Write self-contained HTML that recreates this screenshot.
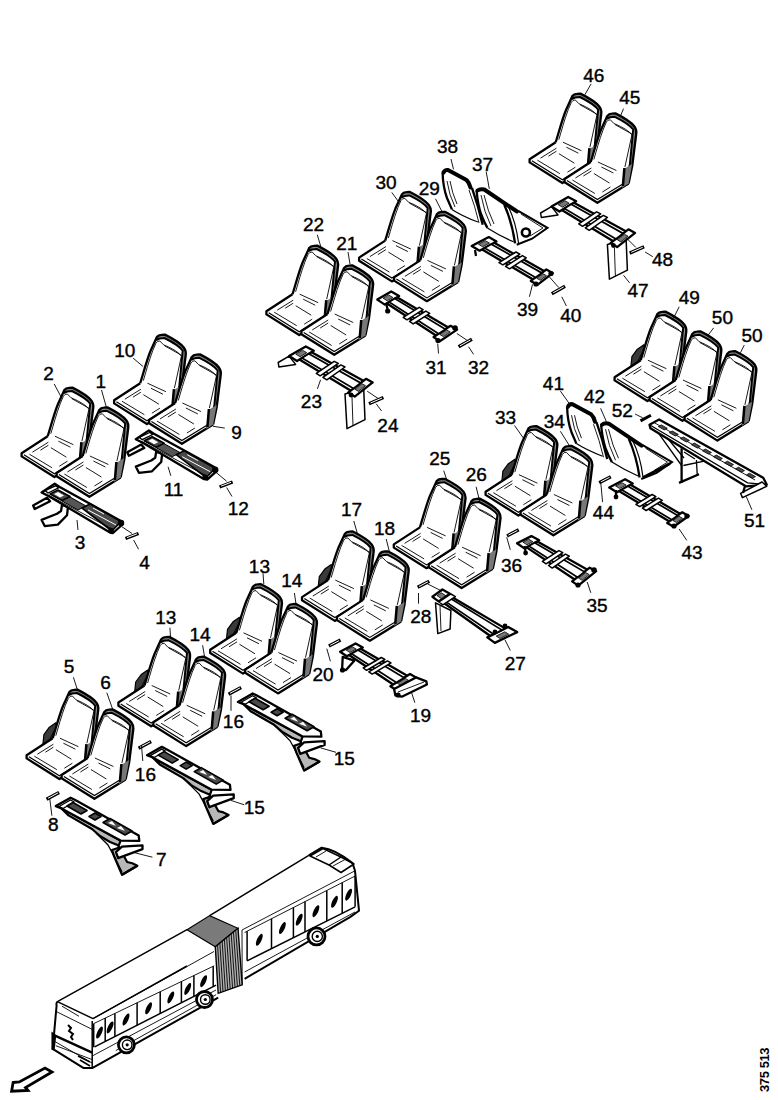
<!DOCTYPE html>
<html><head><meta charset="utf-8"><style>
html,body{margin:0;padding:0;background:#fff;width:778px;height:1100px;overflow:hidden}
svg{display:block}
.fw{fill:#fff;stroke:none}
.o{fill:none;stroke:#000;stroke-width:2.3;stroke-linejoin:round}
.o2{fill:none;stroke:#000;stroke-width:2}
.shell{fill:#777;stroke:none}
.brk{fill:#3a3a3a;stroke:#000;stroke-width:1.2;stroke-linejoin:round}
.gb{fill:none;stroke:#888;stroke-width:2.2}
.o3{fill:none;stroke:#000;stroke-width:2.5}
.i{fill:none;stroke:#000;stroke-width:0.9}
.i2{fill:none;stroke:#000;stroke-width:1.2}
.band{fill:none;stroke:#000;stroke-width:4;stroke-linejoin:round;stroke-linecap:round}
.dk{fill:#666;stroke:#000;stroke-width:1.6}
.fr{fill:#fff;stroke:#000;stroke-width:1.5;stroke-linejoin:round}
.fr2{fill:#fff;stroke:#000;stroke-width:2.3;stroke-linejoin:round}
.dkf{fill:#4a4a4a;stroke:#000;stroke-width:1.6;stroke-linejoin:round}
.wf{fill:#fff;stroke:none}
.wl{fill:none;stroke:#fff;stroke-width:1.2}
.wl2{fill:none;stroke:#fff;stroke-width:1}
.op{fill:#fff;stroke:#000;stroke-width:1.7}
.ib2{fill:none;stroke:#000;stroke-width:1.3}
.gr2{fill:#555;stroke:#000;stroke-width:1}
.gr3{fill:#b8b8b8;stroke:#000;stroke-width:2.2;stroke-linejoin:round}
.gr{fill:#777;stroke:#000;stroke-width:0.8}
.t{fill:none;stroke:#000;stroke-width:0.9}
.ob{fill:none;stroke:#000;stroke-width:1.5;stroke-linejoin:round}
.ib{fill:none;stroke:#000;stroke-width:0.9}
.hb{fill:#7a7a7a;stroke:#000;stroke-width:1.2}
.hb2{fill:#b0b0b0;stroke:#000;stroke-width:1.4}
.ob2{fill:none;stroke:#000;stroke-width:2;stroke-linejoin:round}
.win path{fill:#fff;stroke:#000;stroke-width:1.1}
.wh{fill:#fff;stroke:#000;stroke-width:2.8}
.wh2{fill:#fff;stroke:#000;stroke-width:1.4}
.code{font-family:"Liberation Sans",sans-serif;font-size:13px;font-weight:bold;fill:#000;letter-spacing:-0.4px}
.lab text{font-family:"Liberation Sans",sans-serif;font-size:19px;text-anchor:middle;fill:#000;stroke:#000;stroke-width:0.4}
</style></head><body>
<svg width="778" height="1100" viewBox="0 0 778 1100">
<defs>
<g id="seat">
 <path class="fw" d="M -19.7,48 C -16.5,38 -13.5,26 -9.5,16 L -3,1.8 Q -1.5,-0.3 1.5,-0.4 L 5,-0.6 Q 20,7 24,12.5 Q 26.5,16 25.8,20 L 21.8,52 L 18.2,69.5 L -13,88.8 L -45.8,68.2 L -45.8,65 Z"/>
 <path class="gb" d="M -3.8,3.5 Q -1.8,1 4.7,1.3 Q 19.5,8.5 23.8,14 Q 25,17 24.2,20 L 20.6,51 L 17,70"/>
 <path class="o" d="M -19.7,48 C -16.5,38 -13.5,26 -9.5,16 L -3,1.8 Q -1.5,-0.3 1.5,-0.4 L 5,-0.6 Q 20,7 24,12.5 Q 26.5,16 25.8,20 L 21.8,52 L 18.2,69.5"/>
 <path class="o" d="M -19.7,48 L -45.8,65 L -45.8,68.2 L -13,88.8 L 18.2,69.5"/>
 <path class="o2" d="M -3.8,5 Q -1,2.8 4.5,2.8 Q 19,10 22.8,15.5 L 19.5,50 L 15.5,70"/>
 <path class="i" d="M -16.6,45.5 C -14,37 -11.5,27 -7,15 L -4,8 Q -2.5,5.5 0,5.8 L 3.5,9.5 Q 18,15.5 21.5,21 L 14.5,53"/>
 <path class="i" d="M 4.5,10.5 L 21.5,20"/>
 <path class="i" d="M -12.5,48 L 6,56.5 M -9,53 L 3,59"/>
 <path class="i2" d="M -43.5,66.5 L -13,85.5 L 16.5,67.5"/>
 <path class="i" d="M -38,66 L -15.5,79.5 M -16.5,59.5 L -1,69 M -19,57 L -27,62 M -8,78 L 0,73 M -35,64 L -19,54"/>
 <path class="shell" d="M 13.5,55 L 21.8,50 L 18.2,69.5 L 11.5,74 Z"/>
 <path class="o3" d="M 14,54 L 12.5,72"/>
</g>
<g id="brk">
 <path class="brk" d="M -16.5,32.5 L -23,37 L -28.5,44.5 L -29.5,54 L -19.7,48 L -15.5,37 Z"/>
 <path class="i" d="M -18,40 L -24,52"/>
</g><g id="frA">
 <path class="fr2" d="M 33.1,505.6 L 34.7,509 L 50.1,501.2 L 47,497.8 Z"/>
 <path class="fr2" d="M 41.6,519.9 L 44.7,526.1 L 57.8,524.6 L 67,515.3 L 68,507 L 62,505 L 61,511 L 57,513.8 Z"/>
 <path class="fr2" d="M 41.6,492.5 L 54.7,483.7 L 59.3,486.8 L 120,520.4 L 123,524 L 113,533 L 110,532.5 L 48.5,496 Z"/>
 <path class="ib2" d="M 45,490.6 L 55.5,485.8 L 58.5,487.8 L 48,493 Z"/>
 <path class="dkf" d="M 50,494 L 58,490 L 70,496.5 L 62,500.5 Z"/>
 <path class="wf" d="M 54,494 L 58,492 L 64,495.5 L 60,497.5 Z"/>
 <path class="gr2" d="M 62,501 L 70,497 L 86,506 L 78,510 Z"/>
 <path class="dkf" d="M 82,508 L 90,504 L 121,521.5 L 112,531 Z"/>
 <path class="wl2" d="M 88,510 L 116,525"/>
 <path class="wl2" d="M 93,508 L 104,514"/>
 <path class="ib" d="M 48,495 L 112,529"/>
 <circle cx="121" cy="523" r="3.2" fill="#000"/>
 <circle cx="111" cy="530.5" r="2.8" fill="#000"/>
</g><g id="pinA">
 <path d="M 125.5,538.5 L 138.5,533.5" stroke="#000" stroke-width="3.4" fill="none"/>
 <path d="M 127,537.6 L 137,533.8" stroke="#fff" stroke-width="1" fill="none"/>
</g><g id="frB">
 <path class="gr3" d="M 61.5,808.4 L 120.5,840.6 L 118,848 L 112,850 L 114.3,856.8 L 122,874.8 L 137.4,865.8 L 132.3,863.3 L 127.1,862 L 118.1,845.3 L 110,842 L 100,836 L 92,829 L 68.5,815.4 Z"/>
 <path class="fr2" d="M 122,846.6 L 142.5,845.3 L 142.5,849.1 L 118.1,858.1 L 116,852 Z"/>
 <path class="fr2" d="M 55.8,806.1 L 70.6,797.7 L 75.7,800.3 L 138.7,835.6 L 139.3,840.8 L 120.5,840.6 L 61.5,808.4 Z"/>
 <path class="ib2" d="M 59,806.5 L 70.5,800 L 74,802 L 63,808.5 Z"/>
 <path class="dkf" d="M 67,806 L 73,802.5 L 87,810.5 L 81,814 Z"/>
 <path class="dkf" d="M 89,816.5 L 95,813 L 101,816.5 L 95,820 Z"/>
 <path class="dkf" d="M 103,822.5 L 110,818.5 L 132,831 L 125,835 Z"/>
 <path class="wf" d="M 108,823 L 112,821 L 116,826 Z"/>
 <path class="wf" d="M 117,828 L 121,826 L 125,831 Z"/>
 <path class="o" d="M 122,874.8 L 137.4,865.8"/>
 <path class="ib2" d="M 96,833 L 108,845 L 116,860 L 122,872"/>
</g><g id="pinB">
 <path d="M 46.6,799.3 L 59.1,792.5" stroke="#000" stroke-width="3.4" fill="none"/>
 <path d="M 48,798.3 L 58,792.9" stroke="#fff" stroke-width="1" fill="none"/>
</g><g id="pinC">
 <path d="M 458.6,346.8 L 471.9,339.3" stroke="#000" stroke-width="3.4" fill="none"/>
 <path d="M 460,345.8 L 470.5,339.9" stroke="#fff" stroke-width="1" fill="none"/>
</g><g id="pinD">
 <path d="M 369,403.8 L 383.4,397.5" stroke="#000" stroke-width="3.4" fill="none"/>
 <path d="M 370.5,403 L 382,398" stroke="#fff" stroke-width="1" fill="none"/>
</g><g id="pinE">
 <path d="M 417.7,587.3 L 429.3,581.2" stroke="#000" stroke-width="3.4" fill="none"/>
 <path d="M 419,586.5 L 428,581.8" stroke="#fff" stroke-width="1" fill="none"/>
</g><g id="pinF">
 <path d="M 640.5,420.9 L 650.9,415.2" stroke="#000" stroke-width="3" fill="none"/>
</g><g id="fold">
 <path class="fw" d="M 442.6,173 Q 444,168 448,168.5 L 467.3,178.5 Q 471,182 472,188 L 476.6,191 Q 479,187 484.3,187.8 L 518.2,210.9 L 547.5,227.9 L 532.1,238.7 L 516.7,244.8 L 513.6,241.8 Q 500,236 487.4,227.9 L 482.7,224.8 Q 470,220 451.9,209.4 Q 445,195 442.6,173 Z"/>
 <path class="o" d="M 442.6,173 Q 443,187 447,198 L 451.9,209.4"/>
 <path class="i" d="M 447,181 Q 449,195 455,207 M 450,181 Q 452,193 457,204"/>
 <path class="i2" d="M 451.9,209.4 Q 462,216 478,222"/>
 <path class="o" d="M 472,188 Q 478,205 482.7,224.8"/>
 <path class="i" d="M 469,190 Q 475,206 479,223"/>
 <path class="band" d="M 443.5,172.5 Q 445,169.5 448,170 L 466.5,180 Q 469.5,183 470.5,187.5"/>
 <path class="o" d="M 476.6,191 Q 478,205 481,214 Q 484,222 487.4,227.9"/>
 <path class="i" d="M 481,195 Q 484,212 491,226 M 484,195 Q 488,212 494,224"/>
 <path class="i2" d="M 487.4,227.9 Q 500,236 513.6,241.8"/>
 <path class="band" d="M 477.5,190.5 Q 480,188.5 484.3,189.5 L 511,207.5 L 517,211.5"/>
 <path class="o" d="M 504.3,204.7 Q 512,222 515.1,243.3"/>
 <path class="i2" d="M 508,206 Q 516,222 518.5,243"/>
 <path class="o2" d="M 518.2,210.9 L 547.5,227.9 L 532.1,238.7 L 516.7,244.8"/>
 <path class="i" d="M 521,214 L 543,228 L 530,236"/>
</g></defs>
<rect width="778" height="1100" fill="#fff"/>
<use href="#frA" x="0.0" y="0.0"/><use href="#pinA" x="0.0" y="0.0"/><use href="#frA" x="94.2" y="-53.3"/><use href="#pinA" x="94.1" y="-51.5"/><use href="#frB" x="0.0" y="0.0"/><use href="#pinB" x="0.0" y="0.0"/><use href="#frB" x="91.2" y="-50.9"/><use href="#pinB" x="92.0" y="-51.0"/><use href="#frB" x="182.1" y="-104.2"/><use href="#pinB" x="182.0" y="-105.0"/><path class="fr2" d="M 380.5,299.3 L 390.6,293.4 L 453.4,330.5 L 441.0,338.8 Z"/>
<path class="fr2" d="M 377.3,299.6 L 391.2,291.5 L 399.1,296.1 L 384.8,304.6 Z"/>
<path class="fr2" d="M 433.6,337.0 L 450.5,325.8 L 457.1,329.6 L 439.8,341.2 Z"/>
<path class="op" d="M 389.1,302.0 L 394.8,298.6 L 445.4,329.2 L 438.6,333.7 Z"/>
<path class="fr" d="M 403.2,317.3 L 419.2,307.3 L 423.1,309.6 L 407.0,319.8 Z"/>
<path class="fr" d="M 409.5,321.4 L 425.8,311.1 L 429.7,313.4 L 413.2,323.9 Z"/>
<path class="gr" d="M 383.1,298.2 L 388.7,294.9 L 392.9,297.5 L 387.2,300.8 Z"/>
<path class="gr" d="M 439.9,334.5 L 446.7,329.9 L 450.3,332.1 L 443.4,336.7 Z"/>
<path class="o" d="M 386,303 L 387.5,309"/><circle cx="387.7" cy="311" r="2.6" fill="#000"/><circle cx="438" cy="340.5" r="2.6" fill="#000"/><circle cx="455" cy="328" r="2.8" fill="#000"/>
<path class="fr2" d="M 475.4,245.6 L 487.7,239.1 L 549.3,274.0 L 538.2,282.4 Z"/>
<path class="fr2" d="M 471.7,246.1 L 488.8,237.1 L 496.5,241.4 L 479.6,250.7 Z"/>
<path class="fr2" d="M 530.8,280.9 L 546.3,269.5 L 552.7,273.1 L 537.4,284.8 Z"/>
<path class="op" d="M 484.6,247.9 L 491.4,244.2 L 541.7,272.9 L 535.5,277.5 Z"/>
<path class="fr" d="M 499.0,262.6 L 516.0,252.0 L 519.8,254.2 L 502.9,264.9 Z"/>
<path class="fr" d="M 505.5,266.4 L 522.4,255.6 L 526.2,257.8 L 509.5,268.8 Z"/>
<path class="gr" d="M 478.5,244.3 L 485.3,240.7 L 489.5,243.1 L 482.7,246.8 Z"/>
<path class="gr" d="M 536.8,278.3 L 543.0,273.7 L 546.5,275.7 L 540.4,280.3 Z"/>
<circle cx="536" cy="284" r="2.6" fill="#000"/><circle cx="551" cy="273.5" r="2.6" fill="#000"/><path class="o" d="M 475,250 L 476,256"/>
<path class="fr2" d="M 343.4,651.3 L 354.6,645.3 L 412.0,678.5 L 397.7,687.5 Z"/>
<path class="fr2" d="M 340.1,651.7 L 355.6,643.4 L 362.8,647.5 L 346.8,656.3 Z"/>
<path class="fr2" d="M 390.4,686.2 L 410.0,674.0 L 416.0,677.4 L 396.0,690.0 Z"/>
<path class="op" d="M 351.6,653.7 L 358.0,650.1 L 404.1,677.7 L 396.3,682.5 Z"/>
<path class="fr" d="M 363.2,668.0 L 381.3,657.5 L 384.9,659.5 L 366.6,670.3 Z"/>
<path class="fr" d="M 368.8,671.8 L 387.4,660.9 L 391.0,662.9 L 372.2,674.1 Z"/>
<path class="gr" d="M 346.2,650.1 L 352.4,646.8 L 356.3,649.1 L 349.9,652.5 Z"/>
<path class="gr" d="M 397.4,683.3 L 405.3,678.4 L 408.5,680.3 L 400.6,685.3 Z"/>
<path class="fr2" d="M 394.1,689 L 416,677.4 L 426.3,681.3 L 426.9,684.5 L 401.8,696.7 L 395.4,695.4 Z"/><path class="ib" d="M 398,692 L 424,682"/>
<path class="fr2" d="M 342.7,656.9 L 342.1,669.7 L 346,670 L 354.3,660.7 Z"/><circle cx="342.5" cy="670" r="2.6" fill="#000"/><circle cx="398" cy="695" r="2.6" fill="#000"/>
<path class="fr2" d="M 520.3,543.1 L 530.7,537.8 L 592.4,572.5 L 579.5,582.8 Z"/>
<path class="fr2" d="M 517.0,543.3 L 531.4,536.1 L 539.2,540.3 L 524.3,548.4 Z"/>
<path class="fr2" d="M 572.1,581.4 L 589.7,567.7 L 596.2,571.2 L 578.2,585.6 Z"/>
<path class="op" d="M 528.8,546.0 L 534.7,542.7 L 584.4,571.8 L 577.4,577.3 Z"/>
<path class="fr" d="M 542.4,561.3 L 558.9,550.6 L 562.8,552.7 L 546.1,563.8 Z"/>
<path class="fr" d="M 548.5,565.5 L 565.4,554.1 L 569.3,556.2 L 552.2,568.1 Z"/>
<path class="gr" d="M 522.9,542.1 L 528.7,539.2 L 532.8,541.6 L 526.9,544.8 Z"/>
<path class="gr" d="M 578.6,578.1 L 585.7,572.5 L 589.2,574.6 L 582.0,580.3 Z"/>
<path class="o" d="M 524.5,546 L 525.5,551"/><circle cx="525.6" cy="553" r="2.4" fill="#000"/><circle cx="578" cy="585" r="2.6" fill="#000"/><circle cx="594" cy="570" r="2.8" fill="#000"/>
<path class="fr2" d="M 612.7,487.2 L 624.1,481.1 L 685.2,516.8 L 674.4,524.5 Z"/>
<path class="fr2" d="M 609.2,487.6 L 625.1,479.2 L 632.7,483.6 L 616.9,492.3 Z"/>
<path class="fr2" d="M 667.2,522.9 L 682.2,512.3 L 688.6,516.0 L 673.6,526.8 Z"/>
<path class="op" d="M 621.7,489.7 L 628.0,486.2 L 677.7,515.5 L 671.7,519.7 Z"/>
<path class="fr" d="M 635.9,504.3 L 652.1,494.5 L 655.9,496.7 L 639.8,506.6 Z"/>
<path class="fr" d="M 642.4,508.2 L 658.4,498.1 L 662.2,500.3 L 646.2,510.5 Z"/>
<path class="gr" d="M 615.6,486.0 L 621.9,482.7 L 626.1,485.1 L 619.7,488.5 Z"/>
<path class="gr" d="M 673.0,520.5 L 679.0,516.2 L 682.5,518.3 L 676.5,522.6 Z"/>
<path class="o" d="M 616,490 L 616,495"/><circle cx="616" cy="497" r="2.4" fill="#000"/><circle cx="674" cy="526" r="2.6" fill="#000"/><circle cx="687" cy="516" r="2.6" fill="#000"/>
<path class="fr" d="M 278.2,362.5 L 278.9,367.0 L 295.6,364.4 L 289.1,356.1 Z"/><path class="fr" d="M 345.0,394.0 L 347.0,428.7 L 365.0,419.7 L 363.7,388.8 Z"/><path class="ib" d="M 352,397 L 353,426"/>
<path class="fr2" d="M 292.8,355.5 L 304.8,348.5 L 368.8,383.7 L 355.9,393.8 Z"/>
<path class="fr2" d="M 289.1,356.1 L 305.8,346.4 L 313.8,350.7 L 297.0,361.0 Z"/>
<path class="fr2" d="M 348.1,392.6 L 366.0,378.8 L 372.7,382.4 L 354.7,396.6 Z"/>
<path class="op" d="M 302.0,357.9 L 308.8,353.8 L 360.6,382.9 L 353.5,388.4 Z"/>
<path class="fr" d="M 316.3,373.3 L 334.2,361.3 L 338.3,363.4 L 320.2,375.8 Z"/>
<path class="fr" d="M 322.9,377.4 L 340.9,364.9 L 345.0,367.0 L 326.8,379.8 Z"/>
<path class="gr" d="M 295.8,354.2 L 302.5,350.2 L 306.8,352.7 L 300.0,356.7 Z"/>
<path class="gr" d="M 354.8,389.2 L 362.0,383.7 L 365.6,385.7 L 358.5,391.4 Z"/>
<circle cx="351" cy="395" r="2.4" fill="#000"/>
<path class="fr" d="M 540.6,213.0 L 541.3,217.5 L 558.0,214.9 L 551.5,206.6 Z"/><path class="fr" d="M 607.4,244.5 L 609.4,279.2 L 627.4,270.2 L 626.1,239.3 Z"/><path class="ib" d="M 614.4,247.5 L 615.4,276.5"/>
<path class="fr2" d="M 555.2,206.0 L 567.2,199.0 L 631.2,234.2 L 618.3,244.3 Z"/>
<path class="fr2" d="M 551.5,206.6 L 568.2,196.9 L 576.2,201.2 L 559.4,211.5 Z"/>
<path class="fr2" d="M 610.5,243.1 L 628.4,229.3 L 635.1,232.9 L 617.1,247.1 Z"/>
<path class="op" d="M 564.4,208.4 L 571.2,204.3 L 623.0,233.4 L 615.9,238.9 Z"/>
<path class="fr" d="M 578.7,223.8 L 596.6,211.8 L 600.7,213.9 L 582.6,226.3 Z"/>
<path class="fr" d="M 585.3,227.9 L 603.3,215.4 L 607.4,217.5 L 589.2,230.3 Z"/>
<path class="gr" d="M 558.2,204.7 L 564.9,200.7 L 569.2,203.2 L 562.4,207.2 Z"/>
<path class="gr" d="M 617.2,239.7 L 624.4,234.2 L 628.0,236.2 L 620.9,241.9 Z"/>
<circle cx="613.4" cy="245.5" r="2.4" fill="#000"/>
<path class="fr" d="M 435.5,602.8 L 437.8,633.6 L 450.1,629 L 450.9,610.5 Z"/><path class="ib" d="M 440,606 L 441,631"/>
<path class="fr2" d="M 435.1,596.7 L 442.5,591.4 L 512.6,632.8 L 496.7,640.5 Z"/>
<path class="fr2" d="M 432.4,596.8 L 442.4,589.5 L 449.9,593.8 L 438.6,601.4 Z"/>
<path class="fr2" d="M 487.3,637.4 L 508.2,627.0 L 517.2,632.1 L 494.8,642.9 Z"/>
<path class="op" d="M 442.0,599.1 L 446.5,596.1 L 502.0,630.1 L 493.6,634.3 Z"/>
<path class="fr" d="M 439.0,602.0 L 450.9,594.0 L 455.4,596.6 L 442.8,604.8 Z"/>
<path class="gr" d="M 437.1,595.7 L 441.2,592.8 L 445.8,595.6 L 441.4,598.7 Z"/>
<path class="gr" d="M 496.2,636.1 L 504.8,631.8 L 508.7,634.2 L 499.9,638.5 Z"/>
<circle cx="505" cy="626" r="2.4" fill="#000"/><circle cx="495" cy="632" r="2.4" fill="#000"/>
<path class="o" d="M 681.6,448.2 L 681.6,482.9 M 679,482.9 L 699,474.2"/><path class="ib2" d="M 696.4,460 L 697.3,475.9 M 683.4,465.5 L 707.7,460.3 M 655.6,429.1 L 681.6,465.5 M 659,428 L 684,458 M 684,452 L 695,459"/>
<path class="fr2" d="M 649.5,424.7 L 659.1,419.5 L 763.2,477.7 L 766.7,484.6 L 745.8,486.3 L 650.4,428.2 Z"/>
<path class="ib2" d="M 649.5,424.7 L 747.6,482.9 L 766.7,484.6"/>
<path class="ib" d="M 654,422.5 L 755,480"/>
<path class="dkf" d="M 661.3,424.9 L 667.3,428.3 L 664.3,429.9 L 658.3,426.6 Z" style="stroke-width:0.8"/>
<path class="dkf" d="M 672.3,431.0 L 678.3,434.4 L 675.3,436.0 L 669.3,432.6 Z" style="stroke-width:0.8"/>
<path class="dkf" d="M 683.4,437.0 L 689.4,440.4 L 686.4,442.0 L 680.4,438.6 Z" style="stroke-width:0.8"/>
<path class="dkf" d="M 694.4,443.1 L 700.4,446.5 L 697.4,448.1 L 691.4,444.7 Z" style="stroke-width:0.8"/>
<path class="dkf" d="M 705.4,449.1 L 711.4,452.5 L 708.4,454.1 L 702.4,450.7 Z" style="stroke-width:0.8"/>
<path class="dkf" d="M 716.4,455.1 L 722.4,458.5 L 719.4,460.1 L 713.4,456.7 Z" style="stroke-width:0.8"/>
<path class="dkf" d="M 727.5,461.2 L 733.5,464.6 L 730.5,466.2 L 724.5,462.8 Z" style="stroke-width:0.8"/>
<path class="dkf" d="M 738.5,467.2 L 744.5,470.6 L 741.5,472.2 L 735.5,468.8 Z" style="stroke-width:0.8"/>
<path class="dkf" d="M 749.5,473.2 L 755.5,476.6 L 752.5,478.2 L 746.5,474.9 Z" style="stroke-width:0.8"/>
<path class="fr" d="M 740.6,493.3 L 742.4,497.6 L 766.7,486.3 L 762,482 Z"/><path class="o" d="M 745,486 L 743,493"/><use href="#pinC" x="0.0" y="0.0"/><use href="#pinC" x="93.2" y="-53.0"/><use href="#pinD" x="0.0" y="0.0"/><use href="#pinD" x="260.7" y="-150.7"/><use href="#pinE" x="0.0" y="0.0"/><use href="#pinF" x="0.0" y="0.0"/><use href="#pinE" x="-88.8" y="58.8"/><use href="#pinE" x="89.4" y="-51.4"/><use href="#pinE" x="181.5" y="-104.5"/>
<use href="#seat" x="67.4" y="388.2"/><use href="#seat" x="102.4" y="408.0"/><use href="#seat" x="159.9" y="335.2"/><use href="#seat" x="194.9" y="355.0"/><use href="#seat" x="312.2" y="246.2"/><use href="#seat" x="347.2" y="266.0"/><use href="#seat" x="404.9" y="192.6"/><use href="#seat" x="439.9" y="212.4"/><use href="#seat" x="575.4" y="94.2"/><use href="#seat" x="610.4" y="114.0"/><use href="#brk" x="72.4" y="690.2"/><use href="#seat" x="72.4" y="690.2"/><use href="#seat" x="107.4" y="710.0"/><use href="#brk" x="164.2" y="637.5"/><use href="#seat" x="164.2" y="637.5"/><use href="#seat" x="199.2" y="657.3"/><use href="#brk" x="256.0" y="584.8"/><use href="#seat" x="256.0" y="584.8"/><use href="#seat" x="291.0" y="604.6"/><use href="#brk" x="347.8" y="532.1"/><use href="#seat" x="347.8" y="532.1"/><use href="#seat" x="382.8" y="551.9"/><use href="#seat" x="439.6" y="479.4"/><use href="#seat" x="474.6" y="499.2"/><use href="#brk" x="531.4" y="426.7"/><use href="#seat" x="531.4" y="426.7"/><use href="#seat" x="566.4" y="446.5"/><use href="#brk" x="660.4" y="312.2"/><use href="#seat" x="660.4" y="312.2"/><use href="#seat" x="695.4" y="332.0"/><use href="#seat" x="730.4" y="351.8"/>
<use href="#fold" x="0.0" y="0.0"/><use href="#fold" x="124.5" y="234.2"/><circle cx="525.9" cy="232.5" r="4" fill="#fff" stroke="#000" stroke-width="2.6"/><path d="M 643,477.5 L 670,463.5" stroke="#000" stroke-width="2.6" fill="none"/>
<path class="fw" d="M 57.4,1001.6 L 187.0,929.7 L 209.7,915.6 L 308.8,855.4 L 321.7,847.7 L 339.7,852.9 L 352.5,863.1 L 355.0,870.8 L 359.0,910.7 L 350.0,917.1 L 244.6,978.8 L 218.2,997.6 L 92.2,1068.1 L 83.7,1068.1 L 52.7,1048.8 L 56.6,1005.5 Z"/>
<path class="ob" d="M 57.4,1001.6 L 187,929.7 M 209.7,915.6 L 308.8,855.4"/>
<path class="ob2" d="M 57.4,1001.6 Q 56,1003 56.6,1005.5 L 52.7,1048.8 L 83.7,1068.1 L 92.2,1068.1 L 218.2,997.6"/>
<path class="ob" d="M 57.4,1001.6 L 93,1018.6 L 187,966 M 92.2,1020.9 L 92.2,1068.1"/>
<path class="ib" d="M 56.6,1011.7 L 92.2,1029.4 M 62,1006.2 L 79,1016.3 M 55.8,1045.7 L 92.2,1059.6 M 54,1041 L 92,1063"/>
<path class="o" d="M 55,1035.6 L 92.2,1052.6"/>
<path d="M 52.7,1034 L 55,1035.6 L 53.5,1049 L 52.7,1048.8 Z" fill="#000" stroke="#000" stroke-width="2.5"/>
<path d="M 68,1025 L 71,1028 L 69,1031 L 73,1034 L 71,1037 L 73,1040" fill="none" stroke="#000" stroke-width="2"/>
<path d="M 78,1056 L 90,1062 M 80,1060 L 90,1066" fill="none" stroke="#000" stroke-width="1.6"/>
<path class="ib" d="M 93.0,1018.6 L 214.0,951.5 M 93.7,1023.6 L 214.2,965.8"/>
<path class="ob" d="M 94.6,1046.8 L 216.1,985.1"/>
<path class="ib" d="M 115.8,1050.6 L 216.1,994.7 M 92.2,1056 L 216,990"/>
<path class="ob" d="M 93.7,1023.6 L 93.7,1047.257037037037 M 105.2,1018.083817427386 L 105.2,1041.4171193415636 M 114.9,1013.4310373443983 L 114.9,1036.4912757201646 M 137.1,1002.7824066390042 L 137.1,1025.217695473251 M 160.2,991.7020746887966 L 160.2,1013.4870781893004 M 181.4,981.533112033195 L 181.4,1002.721316872428 M 193.9,975.5372614107883 L 193.9,996.3735802469135 M 213.2,966.2796680497925 L 213.2,986.5726748971193"/>
<path class="ob2" d="M 308.8,855.4 L 321.7,847.7 Q 335,849 352.5,863.1 L 355,870.8 L 359,910.7 L 350,917.1 L 244.6,978.8"/>
<path class="ib" d="M 242.0,930.0 L 355.0,870.8 M 244.6,932.5 L 355.1,876.0"/>
<path class="ob" d="M 247.1,960.8 L 355.1,906.8"/>
<path class="ib" d="M 244.6,972 L 355,912 M 242,930 L 242.2,984.8"/>
<path class="ob" d="M 310,856 L 323,848.5 L 341,857 L 329,865 Z M 329,865 L 341,872.5 L 354,864 L 341,857"/><path class="ib" d="M 316,857 L 326,851 M 333,866 L 346,859"/>
<path class="ob" d="M 247.1,931.2217194570136 L 247.1,960.8 M 271.5,918.745701357466 L 271.5,948.5999999999999 M 293.4,907.547963800905 L 293.4,937.65 M 305,901.6167420814479 L 305,931.8499999999999 M 326.8,890.4701357466064 L 326.8,920.9499999999999 M 342.2,882.59592760181 L 342.2,913.25 M 355.1,876.0 L 355.1,906.8"/>
<ellipse cx="99.5" cy="1032.6" rx="2.3" ry="6.5" transform="rotate(25 99.5 1032.6)" fill="#000"/>
<ellipse cx="110.1" cy="1027.4" rx="2.3" ry="6.5" transform="rotate(25 110.1 1027.4)" fill="#000"/>
<ellipse cx="126.0" cy="1019.5" rx="2.3" ry="6.5" transform="rotate(25 126.0 1019.5)" fill="#000"/>
<ellipse cx="148.6" cy="1008.3" rx="2.3" ry="6.5" transform="rotate(25 148.6 1008.3)" fill="#000"/>
<ellipse cx="170.8" cy="997.4" rx="2.3" ry="6.5" transform="rotate(25 170.8 997.4)" fill="#000"/>
<ellipse cx="187.7" cy="989.0" rx="2.3" ry="6.5" transform="rotate(25 187.7 989.0)" fill="#000"/>
<ellipse cx="203.6" cy="981.2" rx="2.3" ry="6.5" transform="rotate(25 203.6 981.2)" fill="#000"/>
<ellipse cx="259.3" cy="939.8" rx="2.3" ry="6.5" transform="rotate(25 259.3 939.8)" fill="#000"/>
<ellipse cx="282.4" cy="928.1" rx="2.3" ry="6.5" transform="rotate(25 282.4 928.1)" fill="#000"/>
<ellipse cx="299.2" cy="919.7" rx="2.3" ry="6.5" transform="rotate(25 299.2 919.7)" fill="#000"/>
<ellipse cx="315.9" cy="911.2" rx="2.3" ry="6.5" transform="rotate(25 315.9 911.2)" fill="#000"/>
<ellipse cx="334.5" cy="901.8" rx="2.3" ry="6.5" transform="rotate(25 334.5 901.8)" fill="#000"/>
<ellipse cx="348.6" cy="894.7" rx="2.3" ry="6.5" transform="rotate(25 348.6 894.7)" fill="#000"/>
<path class="hb" d="M 187.0,929.7 L 209.7,915.6 L 238.0,928.3 L 215.3,946.7 Z"/>
<path class="hb2" d="M 215.3,946.7 L 238.0,928.3 L 242.2,984.8 L 218.2,993.3 Z"/>
<path class="ib" d="M 217.57000000000002,944.86 L 220.6,992.4499999999999 M 219.84,943.0200000000001 L 223.0,991.5999999999999 M 222.11,941.1800000000001 L 225.39999999999998,990.75 M 224.38000000000002,939.34 L 227.79999999999998,989.9 M 226.65,937.5 L 230.2,989.05 M 228.92000000000002,935.6600000000001 L 232.6,988.1999999999999 M 231.19,933.82 L 235.0,987.3499999999999 M 233.46,931.98 L 237.39999999999998,986.5 M 235.73000000000002,930.1400000000001 L 239.79999999999998,985.65"/>
<ellipse cx="126.4" cy="1044.8" rx="8" ry="8" class="wh"/>
<ellipse cx="127.2" cy="1044.8" rx="4.8" ry="4.8" class="wh2"/>
<circle cx="127.2" cy="1044.8" r="1.6" fill="#000"/>
<ellipse cx="204.5" cy="999.5" rx="8" ry="8" class="wh"/>
<ellipse cx="205.3" cy="999.5" rx="4.8" ry="4.8" class="wh2"/>
<circle cx="205.3" cy="999.5" r="1.6" fill="#000"/>
<ellipse cx="316.5" cy="936.4" rx="8.5" ry="8.5" class="wh"/>
<ellipse cx="317.3" cy="936.4" rx="5.1" ry="5.1" class="wh2"/>
<circle cx="317.3" cy="936.4" r="1.6" fill="#000"/>
<path d="M 13.1,1082.5 L 19.3,1082 L 45,1068 L 52,1072 L 25.5,1087.5 L 28,1090.5 L 11.6,1091.2 Z" fill="#fff" stroke="#000" stroke-width="2.8" stroke-linejoin="miter"/>
<path class="t" d="M 54.2,384 L 61.2,397.1 M 101.5,390 L 106.3,407 M 133.1,358.1 L 143.2,366.6 M 213.1,426.3 L 224.8,428.1 M 168.1,466.8 L 170.8,475.8 M 215.8,472.2 L 226.6,481.2 M 226.6,487.5 L 232,496.5 M 77,520 L 78,530 M 122,526.8 L 132,533.5 M 133.6,540 L 138.6,549.3 M 391.8,192.4 L 398.3,201.4 M 435.5,198.8 L 442,211.7 M 317.3,234.8 L 321.1,247.7 M 348,252 L 350,264 M 451,159 L 453.5,169.3 M 486.2,171.8 L 489.3,188.8 M 591.1,83.9 L 584.9,94.7 M 623.5,108.6 L 620.4,116.3 M 645.1,252 L 652.8,256.7 M 626.6,238.2 L 635.8,247.4 M 623.5,275.2 L 629.6,282.9 M 532.5,284.4 L 529.4,296.8 M 561.8,296.8 L 566.4,306 M 547.9,275.2 L 558.7,287.5 M 679.2,306.8 L 673.4,318.3 M 713.6,327.9 L 707.9,335.5 M 744.3,345.1 L 740.4,352.8 M 560.4,391.1 L 570,404.5 M 600.6,408.3 L 606.4,421.7 M 635.1,414 L 642.8,417.9 M 514.5,425.5 L 524,438.9 M 560.4,431.3 L 570,446.6 M 600.6,481.1 L 602.6,502.1 M 679.2,529 L 686.8,540.4 M 746.2,496.4 L 751.9,509.8 M 443.7,470.6 L 447.3,481.4 M 476.1,486.8 L 479.7,501.2 M 353.8,521 L 357.4,533.6 M 386.2,539 L 389.8,553.3 M 294.4,593 L 296.2,605.5 M 263,573.1 L 263.8,584 M 418.5,593 L 418.5,603.7 M 427.5,583.9 L 441.9,591.1 M 506.7,537.2 L 510.3,549.8 M 587.2,582 L 590.8,592.8 M 504.9,639.7 L 510.3,650.5 M 326.8,648.7 L 330.4,661.3 M 411.3,691.9 L 414.9,702.7 M 169.9,627.7 L 170.7,638.7 M 202.6,645.2 L 204.8,658.3 M 231,695.5 L 231,710.8 M 320.6,747.9 L 336,752.3 M 141.5,745.7 L 142.8,761 M 231,800.4 L 244.2,804.8 M 49.7,798.2 L 51.9,815.7 M 134.9,852.8 L 152.4,857.2 M 73.4,677.3 L 77.3,689.5 M 106.8,692.7 L 113.1,710.5 M 317.4,388.8 L 320.6,379.8 M 367.2,391.2 L 378,398.4 M 376.2,403.8 L 381.6,411 M 456.9,333.5 L 466.9,340.2 M 468.6,346.8 L 473.6,354.4 M 437.7,343.5 L 438.5,353.5"/>
<text x="0" y="0" transform="translate(769,1092) rotate(-90)" class="code">375 513</text>
<g class="lab"><text x="593.8" y="81.5">46</text><text x="629.8" y="104.0">45</text><text x="447.5" y="153.0">38</text><text x="482.6" y="170.5">37</text><text x="386.0" y="188.7">30</text><text x="429.2" y="195.0">29</text><text x="313.5" y="230.6">22</text><text x="346.8" y="249.5">21</text><text x="662.6" y="266.3">48</text><text x="638.0" y="297.1">47</text><text x="527.5" y="316.2">39</text><text x="570.7" y="321.6">40</text><text x="689.2" y="304.3">49</text><text x="722.4" y="323.7">50</text><text x="752.1" y="342.0">50</text><text x="436.0" y="374.0">31</text><text x="478.6" y="374.0">32</text><text x="124.8" y="357.3">10</text><text x="48.6" y="379.9">2</text><text x="100.8" y="388.3">1</text><text x="236.5" y="438.7">9</text><text x="173.5" y="496.4">11</text><text x="238.3" y="515.3">12</text><text x="80.1" y="548.9">3</text><text x="144.5" y="569.0">4</text><text x="311.4" y="408.2">23</text><text x="387.9" y="431.6">24</text><text x="553.4" y="389.7">41</text><text x="594.5" y="403.1">42</text><text x="622.3" y="416.5">52</text><text x="505.6" y="424.2">33</text><text x="554.2" y="427.8">34</text><text x="603.4" y="518.9">44</text><text x="692.0" y="559.0">43</text><text x="754.6" y="526.9">51</text><text x="439.8" y="464.6">25</text><text x="476.2" y="480.8">26</text><text x="511.6" y="572.0">36</text><text x="597.1" y="611.6">35</text><text x="351.5" y="515.9">17</text><text x="384.5" y="534.8">18</text><text x="420.7" y="622.9">28</text><text x="515.2" y="669.7">27</text><text x="259.4" y="572.5">13</text><text x="291.8" y="586.9">14</text><text x="323.1" y="681.1">20</text><text x="420.5" y="721.6">19</text><text x="165.8" y="624.3">13</text><text x="200.0" y="640.5">14</text><text x="233.4" y="728.1">16</text><text x="344.3" y="764.8">15</text><text x="69.0" y="672.5">5</text><text x="105.5" y="688.8">6</text><text x="145.4" y="781.4">16</text><text x="254.3" y="814.2">15</text><text x="53.3" y="830.5">8</text><text x="161.3" y="866.1">7</text></g>
</svg>
</body></html>
